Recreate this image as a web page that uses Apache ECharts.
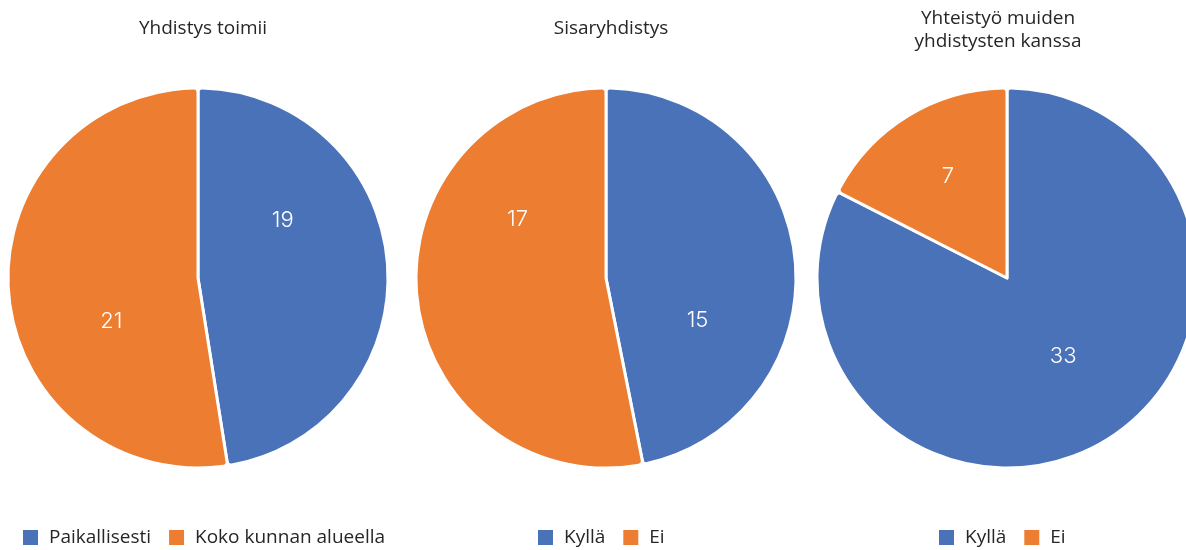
<!DOCTYPE html>
<html>
<head>
<meta charset="utf-8">
<title>Yhdistykset</title>
<script src="https://cdn.jsdelivr.net/npm/echarts@6/dist/echarts.min.js"></script>
<style>
  html, body {
    margin: 0;
    padding: 0;
    background: #fff;
  }
  #chart {
    width: 1186px;
    height: 550px;
  }
</style>
</head>
<body>
<div id="chart"></div>
<script>
  // chart titles
  var titles = ['Yhdistys toimii', 'Sisaryhdistys', 'Yhteistyö muiden\nyhdistysten kanssa'];

  // pie 1
  var toimiiNames = ['Paikallisesti', 'Koko kunnan alueella'];
  var toimiiValues = [19, 21];

  // pie 2
  var sisarNames = ['Kyllä', 'Ei'];
  var sisarValues = [15, 17];

  // pie 3
  var yhteisNames = ['Kyllä', 'Ei'];
  var yhteisValues = [33, 7];

  var colors = ['#4A72B8', '#ED7D31'];
  var fontFamily = '"Open Sans", sans-serif';
  var labelFont = 'Inter, "Open Sans", sans-serif';

  // layout of the three pies
  var centers = [[198, 278], [606, 278], [1007, 278]];
  var titleX = [198, 606, 993];
  var titleTop = [12, 12, 2];
  var legendLeft = [21, 536, 937];
  // nudges the labels to where the original puts them
  var labelOffsets = [
    [[-13, -50], [11, 36]],
    [[-6, 52], [9, -68]],
    [[5, -5], [-8, -18]]
  ];

  var chart = echarts.init(document.getElementById('chart'));

  function buildData(names, values, offsets) {
    return values.map(function (v, i) {
      return {
        name: names[i],
        value: v,
        itemStyle: { color: colors[i] },
        label: { offset: offsets[i] }
      };
    });
  }

  function pieSeries(idx, names, values) {
    return {
      type: 'pie',
      center: centers[idx],
      radius: 190,
      startAngle: 90,
      clockwise: true,
      silent: true,
      itemStyle: {
        borderColor: '#fff',
        borderWidth: 3,
        borderRadius: 4
      },
      label: {
        show: true,
        position: 'inside',
        formatter: '{c}',
        color: '#fff',
        fontSize: 22,
        fontWeight: 300,
        fontFamily: labelFont
      },
      labelLine: { show: false },
      emphasis: { disabled: true },
      data: buildData(names, values, labelOffsets[idx])
    };
  }

  var allNames = [toimiiNames, sisarNames, yhteisNames];

  var option = {
    animation: false,
    title: titles.map(function (t, i) {
      return {
        text: t,
        left: titleX[i],
        top: titleTop[i],
        textAlign: 'center',
        textStyle: {
          color: '#262626',
          fontSize: 19,
          fontWeight: 'normal',
          fontFamily: fontFamily,
          lineHeight: 23
        }
      };
    }),
    legend: allNames.map(function (names, i) {
      return {
        data: names,
        left: legendLeft[i],
        top: 528,
        padding: 0,
        orient: 'horizontal',
        itemWidth: 17,
        itemHeight: 17,
        itemGap: 16,
        icon: 'rect',
        selectedMode: false,
        textStyle: {
          color: '#262626',
          fontSize: 19,
          fontFamily: fontFamily,
          padding: [0, 0, 0, 5]
        }
      };
    }),
    series: [
      pieSeries(0, toimiiNames, toimiiValues),
      pieSeries(1, sisarNames, sisarValues),
      pieSeries(2, yhteisNames, yhteisValues)
    ]
  };

  chart.setOption(option);
</script>
</body>
</html>
